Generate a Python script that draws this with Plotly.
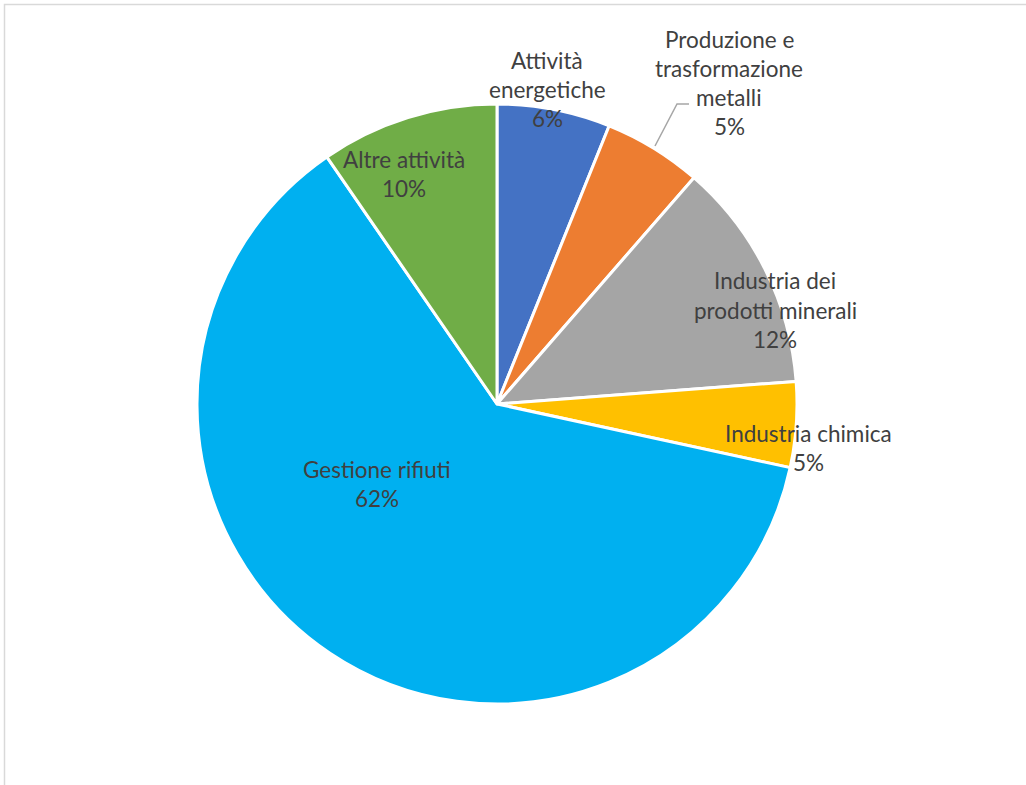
import plotly.graph_objects as go

# ---- data ----
categories = [
    "Attività energetiche",
    "Produzione e trasformazione metalli",
    "Industria dei prodotti minerali",
    "Industria chimica",
    "Gestione rifiuti",
    "Altre attività",
]
values = [6.1, 5.3, 12.4, 4.6, 62.0, 9.6]
label_lines = [
    ["Attività", "energetiche"],
    ["Produzione e", "trasformazione", "metalli"],
    ["Industria dei", "prodotti minerali"],
    ["Industria chimica"],
    ["Gestione rifiuti"],
    ["Altre attività"],
]
colors = ["#4472C4", "#ED7D31", "#A5A5A5", "#FFC000", "#00B0F0", "#70AD47"]

W, H = 1026, 785

def px(x):
    return x / W

def py(y):
    return 1 - y / H

# label anchor (center of first line) in pixels, layout only
label_pos = [(547, 61), (729, 40), (775, 281), (808, 433), (377, 469), (404, 160)]
line_step = 29

fig = go.Figure(
    go.Pie(
        labels=categories,
        values=values,
        sort=False,
        direction="clockwise",
        rotation=0,
        marker=dict(colors=colors, line=dict(color="white", width=3)),
        textinfo="none",
        hoverinfo="label+percent",
        domain=dict(x=[px(197), px(797)], y=[py(704), py(104)]),
        showlegend=False,
    )
)

total = sum(values)
annotations = []
for lines, v, (cx, cy) in zip(label_lines, values, label_pos):
    all_lines = lines + [f"{round(v / total * 100)}%"]
    for i, t in enumerate(all_lines):
        annotations.append(
            dict(
                x=px(cx), y=py(cy + i * line_step),
                xref="paper", yref="paper",
                text=t, showarrow=False,
                xanchor="center", yanchor="middle",
                font=dict(family="Lato", size=22.5, color="#404040"),
            )
        )

shapes = [
    # chart border
    dict(type="rect", xref="paper", yref="paper",
         x0=px(4.5), y0=-0.02, x1=1.02, y1=py(4.5),
         line=dict(color="#D9D9D9", width=1.5), fillcolor="rgba(0,0,0,0)"),
    # leader line for metalli label
    dict(type="path", xref="paper", yref="paper",
         path=f"M {px(655)} {py(146)} L {px(677)} {py(104)} L {px(689)} {py(104)}",
         line=dict(color="#A6A6A6", width=1.5)),
]

fig.update_layout(
    width=W, height=H,
    margin=dict(l=0, r=0, t=0, b=0),
    paper_bgcolor="white",
    plot_bgcolor="white",
    annotations=annotations,
    shapes=shapes,
)

fig.write_html(
    "out.html",
    config={"displayModeBar": False},
    post_script="document.body.style.margin='0';document.body.style.overflow='hidden';",
)
